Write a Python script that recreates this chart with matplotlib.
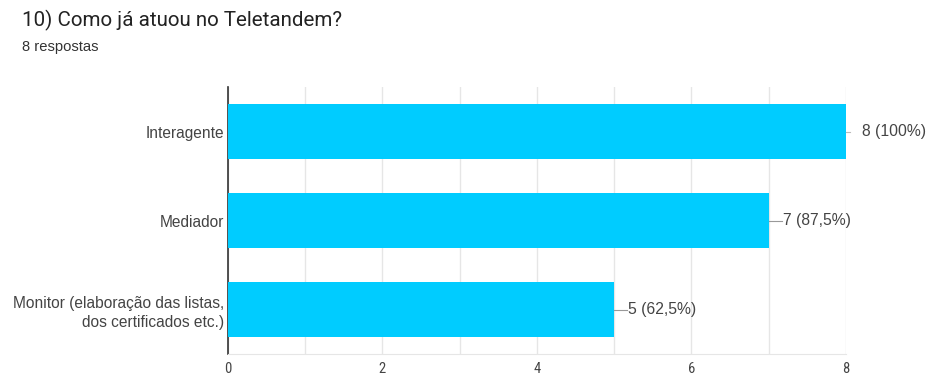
import matplotlib.pyplot as plt

plt.rcParams['font.family'] = ['Liberation Sans', 'DejaVu Sans']

# Data
categories = ['Interagente', 'Mediador', 'Monitor (elaboração das listas,\ndos certificados etc.)']
counts = [8, 7, 5]
labels = ['8 (100%)', '7 (87,5%)', '5 (62,5%)']
xticks = [0, 2, 4, 6, 8]

text_color = '#444444'
bar_color = '#00CCFF'

fig = plt.figure(figsize=(9.28, 3.76), dpi=100)
ax = fig.add_axes([0.2457, 0.0585, 0.9116 - 0.2457, 0.7686 - 0.0585])

ypos = list(range(len(categories)))
ax.barh(ypos, counts, height=0.62, color=bar_color, zorder=3)
ax.set_ylim(len(categories) - 0.5, -0.5)
ax.set_xlim(0, 8)

# value labels with short leader lines
for y, v, lab in zip(ypos, counts, labels):
    if v == max(counts):
        ax.plot([v, v + 0.05], [y, y], color='#bbbbbb', lw=0.8, clip_on=False, zorder=4)
        ax.text(v + 0.21, y, lab, va='center', ha='left', fontsize=11.3, color=text_color)
    else:
        ax.plot([v, v + 0.17], [y, y], color='#999999', lw=0.8, clip_on=False, zorder=4)
        ax.text(v + 0.18, y, lab, va='center', ha='left', fontsize=11.3, color=text_color)

ax.set_yticks(ypos)
ax.set_yticklabels(categories, fontsize=11.2, color=text_color, linespacing=1.35)
ax.set_xticks(xticks)
ax.set_xticklabels([str(t) for t in xticks], fontsize=10.5, color=text_color,
                   family=['Roboto Condensed', 'Roboto', 'DejaVu Sans'])
ax.set_xticks(range(1, 9), minor=True)
ax.tick_params(axis='y', length=0, pad=3)
ax.tick_params(axis='x', length=0, pad=6)
ax.tick_params(axis='x', which='minor', length=0)
ax.grid(axis='x', which='both', color='#e6e6e6', lw=1, zorder=0)

for s in ['top', 'right']:
    ax.spines[s].set_visible(False)
ax.spines['bottom'].set_color('#e6e6e6')
ax.spines['left'].set_color('#333333')
ax.spines['left'].set_linewidth(1.2)

fig.text(22 / 928, 1 - 20 / 376, '10) Como já atuou no Teletandem?', fontsize=14.8,
         color='#222222', va='center', ha='left', family=['Roboto', 'DejaVu Sans'])
fig.text(22 / 928, 1 - 47 / 376, '8 respostas', fontsize=10.6,
         color='#333333', va='center', ha='left')

fig.savefig('out.png', dpi=100)
